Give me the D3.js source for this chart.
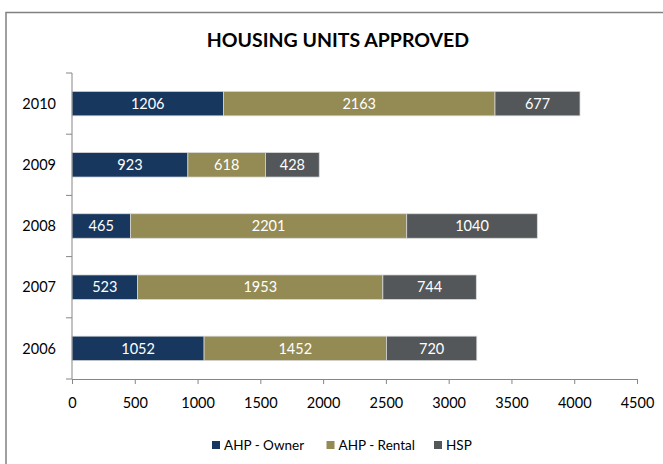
<!DOCTYPE html>
<html><head><meta charset="utf-8">
<script src="https://cdn.jsdelivr.net/npm/d3@7"></script>
<style>body{margin:0;background:#fff}svg{display:block}text{font-family:Lato,"Open Sans",sans-serif}</style>
</head><body>
<svg id="c" width="663" height="464"></svg>
<script>
const years = ["2010","2009","2008","2007","2006"];
const seriesNames = ["AHP - Owner","AHP - Rental","HSP"];
const owner  = [1206, 923, 465, 523, 1052];
const rental = [2163, 618, 2201, 1953, 1452];
const hsp    = [677, 428, 1040, 744, 720];
const xTicks = [0,500,1000,1500,2000,2500,3000,3500,4000,4500];
const colors = ["#17375E","#948A54","#53575A"];

const svg = d3.select("#c");
svg.append("rect").attr("x",6).attr("y",12.5).attr("width",700).attr("height",500)
  .attr("fill","#fff").attr("stroke","#808080").attr("stroke-width",1.5);

svg.append("text").attr("x",338).attr("y",47).attr("text-anchor","middle")
  .attr("font-size",19.5).attr("font-weight","bold").attr("fill","#000")
  .text("HOUSING UNITS APPROVED");

const x = d3.scaleLinear().domain([0,4500]).range([72,637]);
const y = d3.scaleBand().domain(years).range([73,379]).paddingInner(0.6).paddingOuter(0.3);

const rows = years.map((yr,i)=>({year:yr, vals:[owner[i],rental[i],hsp[i]]}));
const stack = d3.stack().keys([0,1,2]).value((d,k)=>d.vals[k]);
const layers = stack(rows);

const g = svg.append("g");
layers.forEach((layer,k)=>{
  layer.forEach(seg=>{
    const yr = seg.data.year;
    g.append("rect").attr("x",x(seg[0])).attr("y",y(yr))
      .attr("width",x(seg[1])-x(seg[0])).attr("height",y.bandwidth())
      .attr("fill",colors[k]).attr("stroke","#d9d9d9").attr("stroke-width",0.75);
    g.append("text").attr("x",(x(seg[0])+x(seg[1]))/2).attr("y",y(yr)+y.bandwidth()/2)
      .attr("dy","0.36em").attr("text-anchor","middle").attr("font-size",14.5)
      .attr("fill","#fff").text(seg.data.vals[k]);
  });
});

// axes
const xAxis = svg.append("g").attr("transform","translate(0,379)")
  .call(d3.axisBottom(x).tickValues(xTicks).tickSize(5).tickPadding(14).tickFormat(d3.format("d")));
xAxis.select(".domain").attr("stroke","#868686");
xAxis.selectAll(".tick line").attr("stroke","#868686");
xAxis.selectAll("text").attr("font-size",14.5).attr("fill","#000").attr("font-family","Lato,sans-serif");

// y axis: line with ticks at band boundaries
const yg = svg.append("g");
yg.append("line").attr("x1",72).attr("x2",72).attr("y1",73).attr("y2",379).attr("stroke","#868686");
d3.range(6).forEach(i=>{
  const yy = 73 + i*(306/5);
  yg.append("line").attr("x1",66).attr("x2",72).attr("y1",yy).attr("y2",yy).attr("stroke","#868686");
});
years.forEach(yr=>{
  yg.append("text").attr("x",56).attr("y",y(yr)+y.bandwidth()/2).attr("dy","0.36em")
    .attr("text-anchor","end").attr("font-size",14.5).attr("fill","#000").text(yr);
});

// legend
const legX = [212, 326.5, 434];
seriesNames.forEach((n,k)=>{
  svg.append("rect").attr("x",legX[k]).attr("y",441).attr("width",8).attr("height",8).attr("fill",colors[k]);
  svg.append("text").attr("x",legX[k]+12).attr("y",445.5).attr("dy","0.36em")
    .attr("font-size",13.5).attr("fill","#000").text(n);
});
</script>
</body></html>
